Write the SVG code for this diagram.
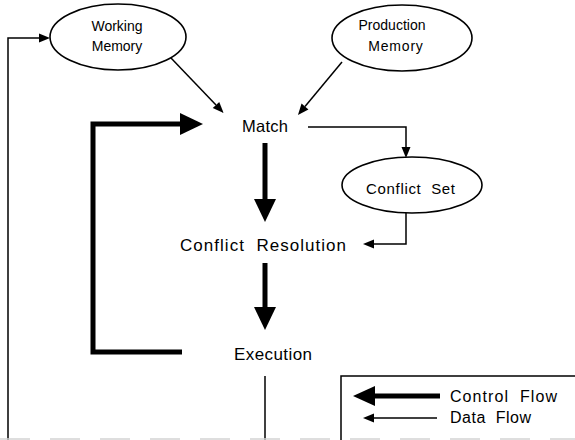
<svg xmlns="http://www.w3.org/2000/svg" width="575" height="440" viewBox="0 0 575 440">
  <style>
    .node ellipse { fill: #fff; stroke: #000; stroke-width: 1.6; }
    .lbl { font-family: "Liberation Sans", Arial, sans-serif; fill: #000; white-space: pre; }
    .thin { fill: none; stroke: #000; stroke-width: 1.5; }
    .thick { fill: none; stroke: #000; stroke-width: 5; }
    .faint { fill: none; stroke: #d4d4d4; stroke-width: 1.5; stroke-dasharray: 30 20; }
  </style>
  <defs>
    <marker id="dataHead" markerUnits="userSpaceOnUse" markerWidth="12" markerHeight="10" refX="0" refY="4.5" orient="auto" overflow="visible">
      <path d="M0,0 L11,4.5 L0,9 z" fill="#000"/>
    </marker>
    <marker id="ctrlHead" markerUnits="userSpaceOnUse" markerWidth="24" markerHeight="22" refX="0" refY="11" orient="auto" overflow="visible">
      <path d="M0,0 L23,11 L0,22 z" fill="#000"/>
    </marker>
  </defs>
  <rect width="575" height="440" fill="#fff"/>

  <g id="connectors">
    <!-- data flow -->
    <path class="thin" d="M265,376 V440"/>
    <path class="thin" d="M8,440 V38 H39" marker-end="url(#dataHead)"/>
    <path class="thin" d="M171,58 L216,105" marker-end="url(#dataHead)"/>
    <path class="thin" d="M342,62 L305,106.5" marker-end="url(#dataHead)"/>
    <path class="thin" d="M308,127 H406 V147" marker-end="url(#dataHead)"/>
    <path class="thin" d="M406,213 V244 H374" marker-end="url(#dataHead)"/>
    <!-- control flow -->
    <path class="thick" d="M182,352 H93 V124 H180" marker-end="url(#ctrlHead)"/>
    <path class="thick" d="M265,143 V199" marker-end="url(#ctrlHead)"/>
    <path class="thick" d="M265,263 V307" marker-end="url(#ctrlHead)"/>
    <!-- faint bottom edge -->
    <path class="faint" d="M0,439 H575"/>
  </g>

  <g id="working-memory" class="node">
    <ellipse cx="118" cy="37" rx="68" ry="33"/>
    <text class="lbl" x="117" y="31" font-size="14" text-anchor="middle">Working</text>
    <text class="lbl" x="117" y="51" font-size="14" text-anchor="middle">Memory</text>
  </g>

  <g id="production-memory" class="node">
    <ellipse cx="402" cy="38" rx="70" ry="33"/>
    <text class="lbl" x="392" y="30" font-size="14" text-anchor="middle">Production</text>
    <text class="lbl" x="396" y="51" font-size="14" text-anchor="middle" letter-spacing="0.8">Memory</text>
  </g>

  <g id="match">
    <text class="lbl" x="242" y="132" font-size="16.5" textLength="46" lengthAdjust="spacing">Match</text>
  </g>

  <g id="conflict-set" class="node">
    <ellipse cx="412" cy="185" rx="70" ry="28"/>
    <text class="lbl" x="366" y="194" font-size="15" textLength="89" lengthAdjust="spacing">Conflict  Set</text>
  </g>

  <g id="conflict-resolution">
    <text class="lbl" x="180" y="251" font-size="17" textLength="166" lengthAdjust="spacing">Conflict  Resolution</text>
  </g>

  <g id="execution">
    <text class="lbl" x="234" y="360" font-size="17" textLength="78" lengthAdjust="spacing">Execution</text>
  </g>

  <g id="legend">
    <path class="thin" d="M341,440 V376 H575"/>
    <path d="M440,396 H374" stroke="#000" stroke-width="5" fill="none"/>
    <path d="M353,396 L375,386 L375,406 z" fill="#000"/>
    <path class="thin" d="M437,418 H373"/>
    <path d="M363,418 L374,413.5 L374,422.5 z" fill="#000"/>
    <text class="lbl" x="450" y="402" font-size="16" textLength="107" lengthAdjust="spacing">Control  Flow</text>
    <text class="lbl" x="450" y="423" font-size="16" textLength="81" lengthAdjust="spacing">Data  Flow</text>
  </g>
</svg>
